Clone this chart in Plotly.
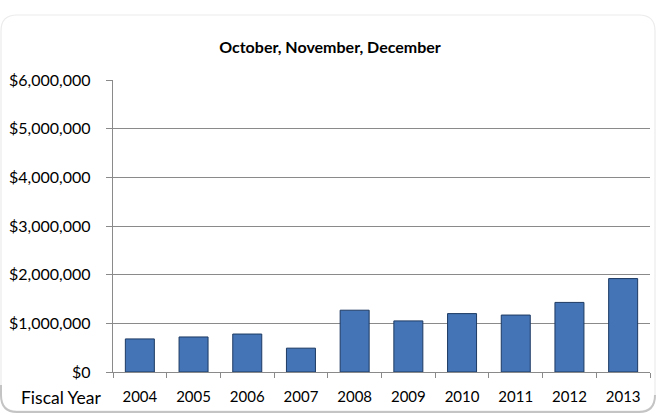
import plotly.graph_objects as go

years = ["2004", "2005", "2006", "2007", "2008", "2009", "2010", "2011", "2012", "2013"]
values = [680000, 720000, 780000, 490000, 1270000, 1050000, 1200000, 1170000, 1430000, 1920000]
y_ticks = [0, 1000000, 2000000, 3000000, 4000000, 5000000, 6000000]
y_tick_labels = ["$0", "$1,000,000", "$2,000,000", "$3,000,000", "$4,000,000", "$5,000,000", "$6,000,000"]

FONT = "Lato"
PAD = "\u00a0\u00a0\u00a0"

fig = go.Figure()
fig.add_trace(go.Bar(
    x=years, y=values, width=0.54,
    marker=dict(color="#4474b5", line=dict(color="#1d3a63", width=1)),
))

fig.update_layout(
    width=660, height=419,
    margin=dict(l=113, r=10, t=80, b=47),
    paper_bgcolor="white", plot_bgcolor="white",
    showlegend=False,
    title=dict(text="<b>October, November, December</b>", x=0.5, xanchor="center",
               y=1 - 47 / 419, yanchor="middle",
               font=dict(family=FONT, size=16, color="black")),
    font=dict(family=FONT, size=15, color="black"),
)
fig.update_yaxes(range=[0, 6000000], tickvals=y_ticks,
                 ticktext=[lab + PAD for lab in y_tick_labels],
                 showgrid=True, gridcolor="#8a8a8a", gridwidth=1,
                 showline=True, linecolor="#8a8a8a", linewidth=1,
                 ticks="outside", ticklen=6, tickcolor="#8a8a8a",
                 zeroline=False, tickfont=dict(family=FONT, size=16))
fig.update_xaxes(showline=True, linecolor="#8a8a8a", linewidth=1,
                 ticks="outside", ticklen=5, tickcolor="#8a8a8a", tickson="boundaries",
                 ticklabelstandoff=11,
                 tickfont=dict(family=FONT, size=15))

fig.add_annotation(text="Fiscal Year", xref="paper", yref="paper", x=-0.017, y=0,
                   xanchor="right", yanchor="middle", yshift=-25, showarrow=False,
                   font=dict(family=FONT, size=17.5, color="black"))

# rounded chart-area border (Excel chart frame with soft shadow)
W, H = 660, 419
l, r, t, b = 113, 10, 80, 47
pw, ph = W - l - r, H - t - b
def px(x):
    return (x - l) / pw
def py(y):
    return (H - b - y) / ph
x0, x1, y0, y1, rad = 1, 655, 15, 411, 16
frame = (f"M {px(x0+rad)},{py(y0)} L {px(x1-rad)},{py(y0)} Q {px(x1)},{py(y0)} {px(x1)},{py(y0+rad)} "
         f"L {px(x1)},{py(y1-rad)} Q {px(x1)},{py(y1)} {px(x1-rad)},{py(y1)} "
         f"L {px(x0+rad)},{py(y1)} Q {px(x0)},{py(y1)} {px(x0)},{py(y1-rad)} "
         f"L {px(x0)},{py(y0+rad)} Q {px(x0)},{py(y0)} {px(x0+rad)},{py(y0)} Z")
fig.add_shape(type="path", path=frame, xref="paper", yref="paper",
              line=dict(color="#ececec", width=1.2), layer="below")
shadow = (f"M {px(x0)},{py(y1-rad-10)} L {px(x0)},{py(y1-rad)} Q {px(x0)},{py(y1+1)} {px(x0+rad)},{py(y1+1)} "
          f"L {px(x1-rad)},{py(y1+1)} Q {px(x1)},{py(y1+1)} {px(x1)},{py(y1-rad)}")
fig.add_shape(type="path", path=shadow, xref="paper", yref="paper",
              line=dict(color="#c4c4c4", width=2), layer="below")

fig.write_html("out.html", config={"displayModeBar": False},
               post_script="document.body.style.margin='0';")
